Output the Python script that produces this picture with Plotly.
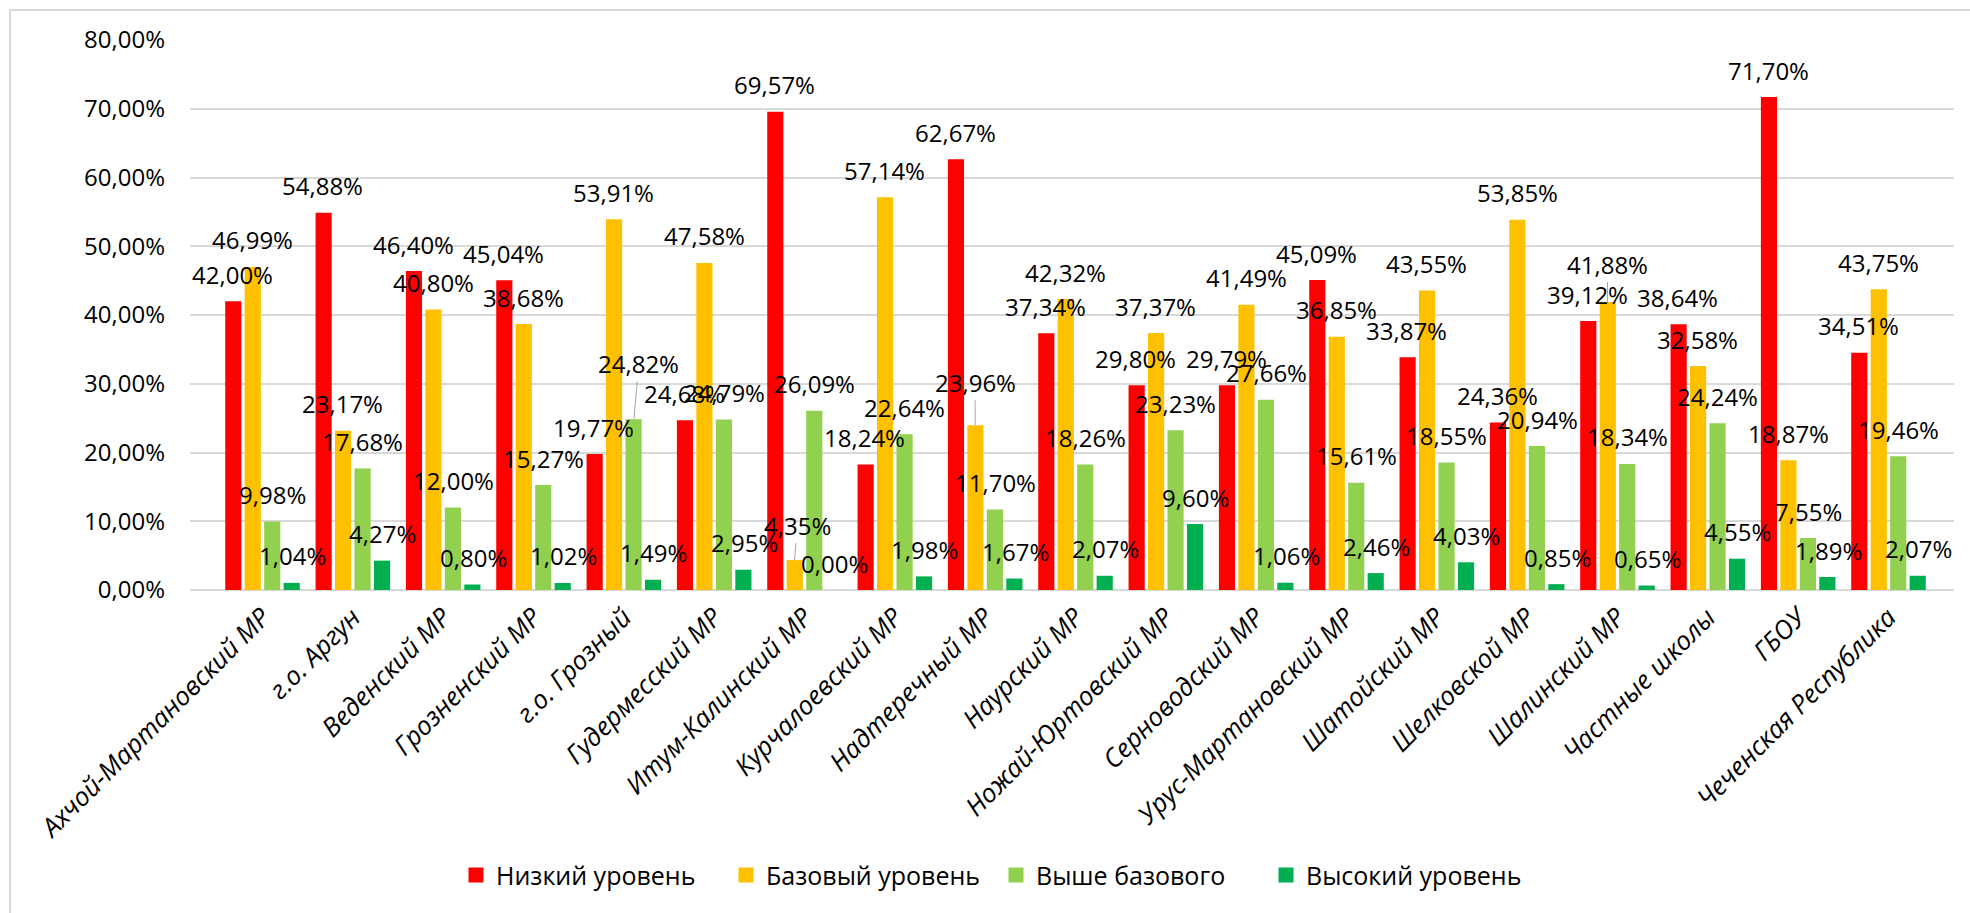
import plotly.graph_objects as go

# Districts of the Chechen Republic and share of students by result level, %
categories = [
    "Ахчой-Мартановский МР", "г.о. Аргун", "Веденский МР", "Грозненский МР",
    "г.о. Грозный", "Гудермесский МР", "Итум-Калинский МР", "Курчалоевский МР",
    "Надтеречный МР", "Наурский МР", "Ножай-Юртовский МР", "Серноводский МР",
    "Урус-Мартановский МР", "Шатойский МР", "Шелковской МР", "Шалинский МР",
    "Частные школы", "ГБОУ", "Чеченская Республика",
]
low = [42.00, 54.88, 46.40, 45.04, 19.77, 24.68, 69.57, 18.24, 62.67, 37.34,
       29.80, 29.79, 45.09, 33.87, 24.36, 39.12, 38.64, 71.70, 34.51]
base = [46.99, 23.17, 40.80, 38.68, 53.91, 47.58, 4.35, 57.14, 23.96, 42.32,
        37.37, 41.49, 36.85, 43.55, 53.85, 41.88, 32.58, 18.87, 43.75]
above = [9.98, 17.68, 12.00, 15.27, 24.82, 24.79, 26.09, 22.64, 11.70, 18.26,
         23.23, 27.66, 15.61, 18.55, 20.94, 18.34, 24.24, 7.55, 19.46]
high = [1.04, 4.27, 0.80, 1.02, 1.49, 2.95, 0.00, 1.98, 1.67, 2.07,
        9.60, 1.06, 2.46, 4.03, 0.85, 0.65, 4.55, 1.89, 2.07]

series = [
    ("Низкий уровень", low, "#FF0000"),
    ("Базовый уровень", base, "#FFC000"),
    ("Выше базового", above, "#92D050"),
    ("Высокий уровень", high, "#00B050"),
]

# labels lifted further above their bars, drawn with a leader line
lifted = {(2, 4): (5, 29), (1, 6): (3, 8), (1, 8): (0, 16), (1, 15): (0, 11)}

W, H = 1970, 913
ML, MR, MT, MB = 190, 16, 40, 322.5
PW, PH = W - ML - MR, H - MT - MB
BARGAP, GROUPGAP = 0.138, 0.17
FONT = "Open Sans, Liberation Sans, sans-serif"
LABEL_SIZE = 24


def fmt(v):
    return f"{v:.2f}".replace(".", ",") + "%"


fig = go.Figure()
for name, vals, color in series:
    fig.add_trace(go.Bar(
        x=categories, y=vals, name=name, marker=dict(color=color, line=dict(width=0)),
        showlegend=False, hoverinfo="skip",
    ))
    # legend entry with a larger square swatch
    fig.add_trace(go.Scatter(
        x=[None], y=[None], mode="markers", name=name,
        marker=dict(symbol="square", size=15, color=color),
    ))

# data labels centred over each bar
slot = PW / len(categories) * (1 - BARGAP) / len(series)
annotations = []
for si, (name, vals, color) in enumerate(series):
    offset = (si - (len(series) - 1) / 2) * slot
    for ci, (cat, v) in enumerate(zip(categories, vals)):
        label_font = dict(family=FONT, size=LABEL_SIZE, color="#000000")
        if (si, ci) in lifted:
            dx, lift = lifted[(si, ci)]
            annotations.append(dict(
                x=cat, y=v, text=fmt(v), xshift=offset, showarrow=True,
                arrowhead=0, arrowwidth=1, arrowcolor="#A6A6A6",
                ax=dx, ay=-(27 + lift), axref="pixel", ayref="pixel",
                font=label_font,
            ))
        else:
            annotations.append(dict(
                x=cat, y=v, text=fmt(v), xshift=offset, yshift=27,
                yanchor="middle", showarrow=False, font=label_font,
            ))

# outer chart frame
frame = dict(
    type="rect", xref="paper", yref="paper",
    x0=(10 - ML) / PW, x1=(W + 10 - ML) / PW,
    y0=(PH + MT - H - 10) / PH, y1=(PH + MT - 10) / PH,
    line=dict(color="#D9D9D9", width=2), fillcolor="rgba(0,0,0,0)", layer="below",
)

fig.update_layout(
    width=W, height=H,
    margin=dict(l=ML, r=MR, t=MT, b=MB, autoexpand=False),
    paper_bgcolor="white", plot_bgcolor="white",
    barmode="group", bargap=BARGAP, bargroupgap=GROUPGAP,
    separators=", ",
    font=dict(family=FONT, size=LABEL_SIZE, color="#000000"),
    xaxis=dict(
        type="category", tickangle=-45, showgrid=False, showline=False, ticks="",
        tickfont=dict(family=FONT, size=26, style="italic", color="#000000"),
        ticklabelstandoff=6,
    ),
    yaxis=dict(
        range=[0, 80], dtick=10, tickformat=".2f", ticksuffix="%",
        showgrid=True, gridcolor="#D9D9D9", gridwidth=1.5,
        zeroline=True, zerolinecolor="#D9D9D9", zerolinewidth=1.5,
        showline=False, ticks="", ticklabelstandoff=24,
        tickfont=dict(family=FONT, size=LABEL_SIZE, color="#000000"),
    ),
    legend=dict(
        orientation="h", x=(996 - ML) / PW, xanchor="center",
        y=(MT + PH - 876) / PH, yanchor="middle",
        font=dict(family=FONT, size=25, color="#000000"),
        itemwidth=30, entrywidth=225, entrywidthmode="pixels",
        bgcolor="rgba(0,0,0,0)",
    ),
    annotations=annotations,
    shapes=[frame],
)

fig.write_html("out.html")
